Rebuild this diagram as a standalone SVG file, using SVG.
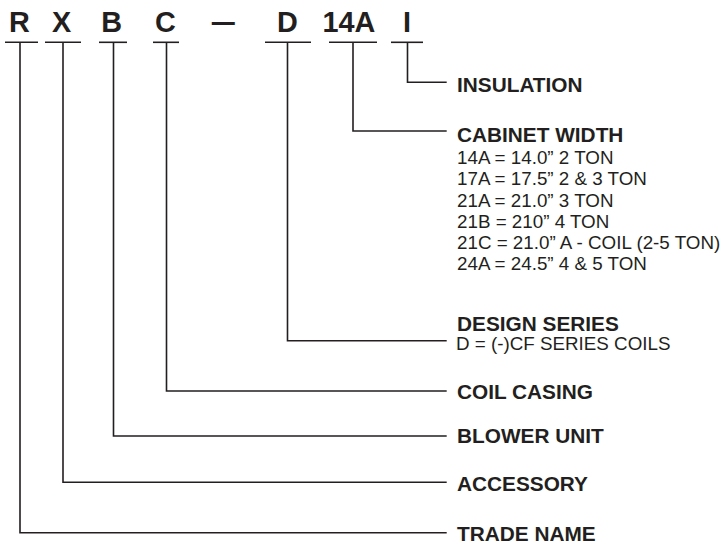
<svg xmlns="http://www.w3.org/2000/svg" width="728" height="545" viewBox="0 0 728 545">
<style>
.code{font-family:"Liberation Sans",Arial,sans-serif;font-weight:bold;font-size:28.8px;fill:#231f20;text-anchor:middle}
.lbl{font-family:"Liberation Sans",Arial,sans-serif;font-weight:bold;font-size:20.8px;fill:#231f20}
.sub{font-family:"Liberation Sans",Arial,sans-serif;font-size:18.8px;fill:#231f20}
.ln{stroke:#231f20;stroke-width:1.6;fill:none}
</style>
<rect width="728" height="545" fill="#fff"/>
<g id="code">
<text class="code" x="19.5" y="32.3">R</text>
<text class="code" x="61.7" y="32.3">X</text>
<text class="code" x="111.7" y="32.3">B</text>
<text class="code" x="165.5" y="32.3">C</text>
<text class="code" x="223.3" y="32.3" textLength="23" lengthAdjust="spacingAndGlyphs">—</text>
<text class="code" x="287.5" y="32.3">D</text>
<text class="code" x="349" y="32.3">14A</text>
<text class="code" x="407" y="32.3">I</text>
</g>
<g id="connectors" class="ln">
<line x1="5" y1="42.3" x2="38" y2="42.3"/>
<line x1="45" y1="42.3" x2="81" y2="42.3"/>
<line x1="99" y1="42.3" x2="127" y2="42.3"/>
<line x1="153" y1="42.3" x2="179" y2="42.3"/>
<line x1="265" y1="42.3" x2="311" y2="42.3"/>
<line x1="329" y1="42.3" x2="377" y2="42.3"/>
<line x1="391" y1="42.3" x2="423" y2="42.3"/>
<polyline points="407.5,42.3 407.5,82.3 446.7,82.3"/>
<polyline points="353,42.3 353,131 446.7,131"/>
<polyline points="287.5,42.3 287.5,340.7 446.7,340.7"/>
<polyline points="166.5,42.3 166.5,391 446.7,391"/>
<polyline points="113.5,42.3 113.5,436 446.7,436"/>
<polyline points="63,42.3 63,482.3 446.7,482.3"/>
<polyline points="20,42.3 20,532.7 446.7,532.7"/>
</g>
<g id="insulation"><text class="lbl" x="457" y="92.3">INSULATION</text></g>
<g id="cabinet-width">
<text class="lbl" x="457" y="141.7">CABINET WIDTH</text>
<text class="sub" x="457" y="164.3">14A = 14.0” 2 TON</text>
<text class="sub" x="457" y="185.3">17A = 17.5” 2 &amp; 3 TON</text>
<text class="sub" x="457" y="206.5">21A = 21.0” 3 TON</text>
<text class="sub" x="457" y="227.5">21B = 210” 4 TON</text>
<text class="sub" x="457" y="248.5">21C = 21.0” A - COIL (2-5 TON)</text>
<text class="sub" x="457" y="269.8">24A = 24.5” 4 &amp; 5 TON</text>
</g>
<g id="design-series">
<text class="lbl" x="457" y="330.7">DESIGN SERIES</text>
<text class="sub" x="456" y="350">D = (-)CF SERIES COILS</text>
</g>
<g id="coil-casing"><text class="lbl" x="457" y="399.3">COIL CASING</text></g>
<g id="blower-unit"><text class="lbl" x="457" y="443.3">BLOWER UNIT</text></g>
<g id="accessory"><text class="lbl" x="457" y="490.7">ACCESSORY</text></g>
<g id="trade-name"><text class="lbl" x="457" y="540.5">TRADE NAME</text></g>
</svg>
